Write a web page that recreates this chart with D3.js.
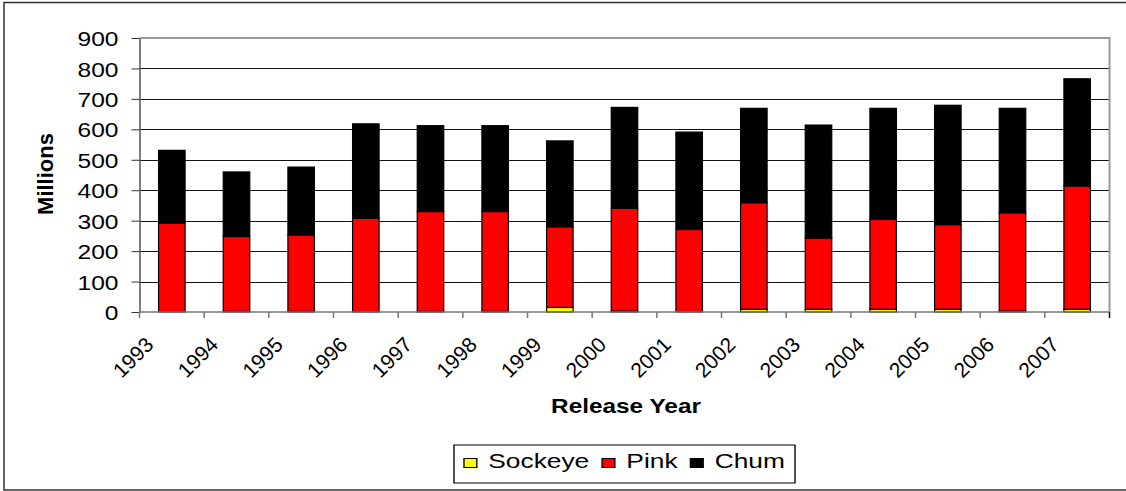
<!DOCTYPE html>
<html>
<head>
<meta charset="utf-8">
<script src="https://cdn.jsdelivr.net/npm/d3@7"></script>
<style>
  body { margin: 0; background: #fff; }
  text { font-family: "Liberation Sans", Arial, sans-serif; fill: #000; }
</style>
</head>
<body>
<div id="chart"></div>
<script>
// data (millions released)
var years = ['1993','1994','1995','1996','1997','1998','1999','2000','2001','2002','2003','2004','2005','2006','2007'];
var sockeye = [0, 2, 2, 0, 2, 2, 15, 3, 0, 9, 9, 9, 9, 3, 9];
var pink    = [292, 246, 251, 308, 328, 328, 265, 338, 271, 350, 234, 295, 278, 323, 405];
var chum    = [239, 212, 223, 310, 282, 282, 282, 331, 320, 310, 371, 365, 392, 343, 352];
var yTicks  = [0, 100, 200, 300, 400, 500, 600, 700, 800, 900];
var seriesNames = ['Sockeye', 'Pink', 'Chum'];
var seriesColors = ['#ffff00', '#ff0000', '#000000'];

var width = 1126, height = 491;
var plot = { left: 139.5, right: 1109.5, top: 38, bottom: 312 };

var svg = d3.select('#chart').append('svg')
  .attr('width', width)
  .attr('height', height);

// outer chart border
svg.append('rect')
  .attr('x', 4).attr('y', 2.5)
  .attr('width', 1130).attr('height', 487.5)
  .attr('fill', 'none').attr('stroke', '#333').attr('stroke-width', 1.5);

var rows = years.map(function(y, i) {
  return { year: y, Sockeye: sockeye[i], Pink: pink[i], Chum: chum[i] };
});

var x = d3.scaleBand()
  .domain(years)
  .range([plot.left, plot.right])
  .paddingInner(0.59)
  .paddingOuter(0.295);

var y = d3.scaleLinear()
  .domain([0, 900])
  .range([plot.bottom, plot.top]);

var color = d3.scaleOrdinal().domain(seriesNames).range(seriesColors);

// gridlines
svg.append('g')
  .selectAll('line')
  .data(yTicks.filter(function(t) { return t > 0 && t < 900; }))
  .enter().append('line')
  .attr('x1', plot.left).attr('x2', plot.right)
  .attr('y1', function(d) { return Math.round(y(d)) + 0.5; })
  .attr('y2', function(d) { return Math.round(y(d)) + 0.5; })
  .attr('stroke', '#111').attr('stroke-width', 1);

// plot border top + right (grey)
svg.append('path')
  .attr('d', 'M' + plot.left + ',' + plot.top + 'H' + plot.right + 'V' + plot.bottom)
  .attr('fill', 'none').attr('stroke', '#999').attr('stroke-width', 2);

// stacked bars
var stacked = d3.stack().keys(seriesNames)(rows);

svg.append('g')
  .selectAll('g')
  .data(stacked)
  .enter().append('g')
  .attr('fill', function(d) { return color(d.key); })
  .selectAll('rect')
  .data(function(d) { return d; })
  .enter().append('rect')
  .attr('x', function(d) { return x(d.data.year); })
  .attr('y', function(d) { return y(d[1]); })
  .attr('width', x.bandwidth())
  .attr('height', function(d) { return y(d[0]) - y(d[1]); })
  .attr('stroke', '#000').attr('stroke-width', 1.2);

// y axis
var yAxis = svg.append('g')
  .attr('transform', 'translate(' + plot.left + ',0)')
  .call(d3.axisLeft(y).tickValues(yTicks).tickSize(8).tickSizeOuter(0));
yAxis.select('.domain').attr('stroke', '#555').attr('stroke-width', 1.5);
yAxis.selectAll('.tick line').attr('stroke', '#333');
yAxis.selectAll('.tick text')
  .attr('x', null).attr('dy', '0.36em')
  .attr('transform', 'translate(-21,0) scale(1.17,1)')
  .style('font-size', '21px');

// x axis (ticks at category boundaries)
var step = x.step();
var bounds = d3.range(years.length + 1).map(function(i) { return plot.left + i * step; });
svg.append('g')
  .selectAll('line')
  .data(bounds)
  .enter().append('line')
  .attr('x1', function(d) { return d; }).attr('x2', function(d) { return d; })
  .attr('y1', plot.bottom).attr('y2', plot.bottom + 6)
  .attr('stroke', function(d, i) { return i === years.length ? '#000' : '#777'; })
  .attr('stroke-width', 1.5);
svg.append('line')
  .attr('x1', plot.left).attr('x2', plot.right)
  .attr('y1', plot.bottom).attr('y2', plot.bottom)
  .attr('stroke', '#777').attr('stroke-width', 1.5);

svg.append('g')
  .selectAll('text')
  .data(years)
  .enter().append('text')
  .attr('text-anchor', 'end')
  .attr('transform', function(d) {
    return 'translate(' + (x(d) + x.bandwidth() / 2 - 17) + ',346) rotate(-45)';
  })
  .style('font-size', '21px')
  .text(function(d) { return d; });

// axis titles
svg.append('text')
  .attr('text-anchor', 'middle')
  .attr('transform', 'translate(626,413) scale(1.16,1)')
  .style('font-size', '21px').style('font-weight', 'bold')
  .text('Release Year');

svg.append('text')
  .attr('text-anchor', 'middle')
  .attr('transform', 'translate(52.5,174) rotate(-90)')
  .style('font-size', '22px').style('font-weight', 'bold')
  .text('Millions');

// legend (stretched horizontally like the source)
var sx = 1.35;
var legend = svg.append('g')
  .attr('transform', 'translate(454,445) scale(' + sx + ',1)');
var box = legend.append('rect')
  .attr('y', 0).attr('height', 38)
  .attr('fill', '#fff').attr('stroke', '#000').attr('stroke-width', 1);
var cursor = 7.4;
seriesNames.forEach(function(name, i) {
  legend.append('rect')
    .attr('x', cursor).attr('y', 13.5)
    .attr('width', 9.5).attr('height', 9)
    .attr('fill', seriesColors[i])
    .attr('stroke', '#000').attr('stroke-width', 1);
  cursor += 9.5 + 8.5;
  var t = legend.append('text')
    .attr('x', cursor).attr('y', 23.5)
    .style('font-size', '19.5px')
    .text(name);
  cursor += t.node().getComputedTextLength() + 9.5;
});
box.attr('x', 0).attr('width', cursor - 2);
</script>
</body>
</html>
